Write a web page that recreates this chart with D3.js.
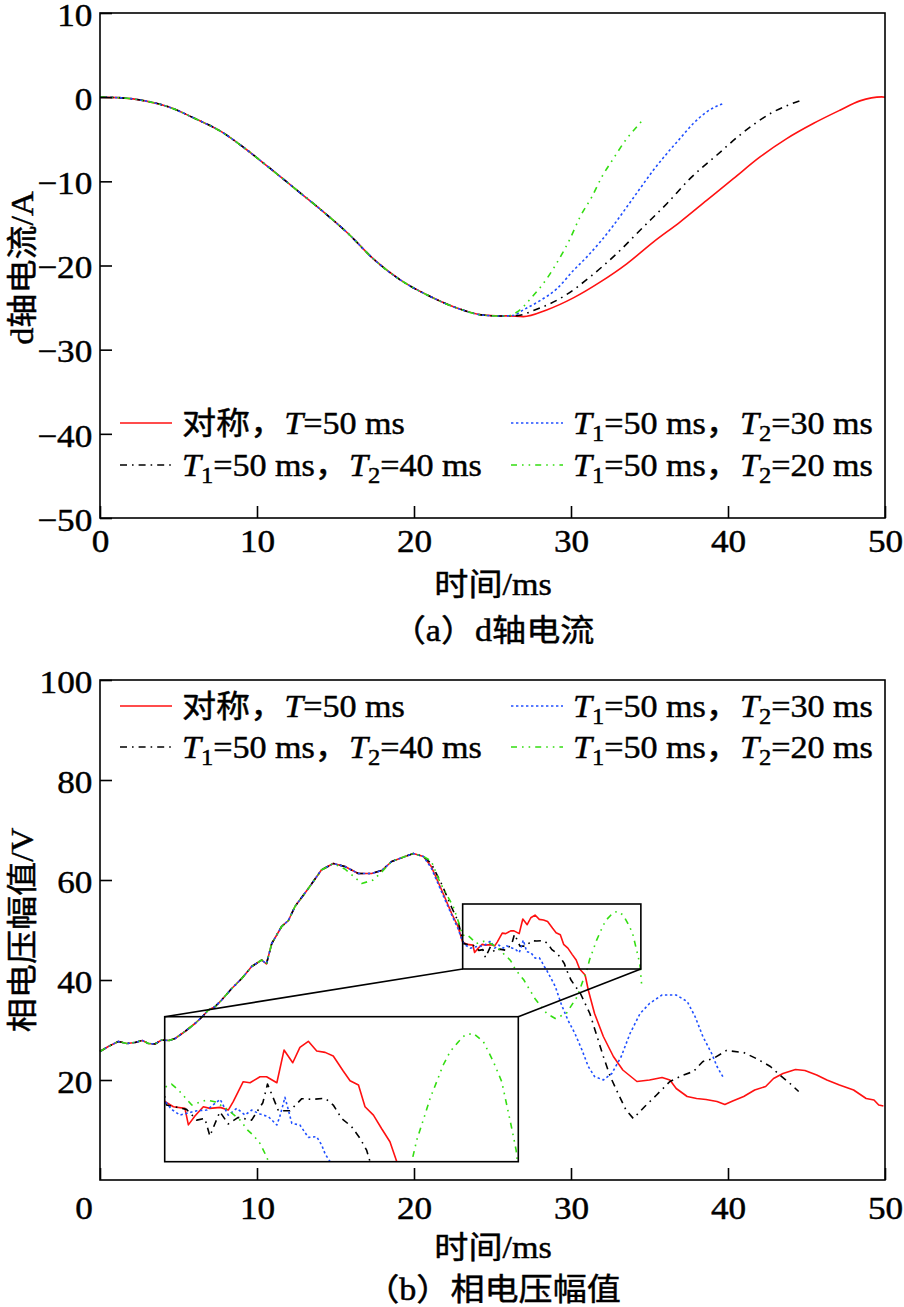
<!DOCTYPE html>
<html><head><meta charset="utf-8">
<script src="https://cdn.jsdelivr.net/npm/d3@7"></script>
<style>body{margin:0;background:#fff}svg{display:block}</style>
</head><body>
<svg id="c" width="904" height="1307"></svg>
<script>
// ================= DATA =================
const xTicks = [0, 10, 20, 30, 40, 50];
const yTicksA = [10, 0, -10, -20, -30, -40, -50];
const yTicksB = [20, 40, 60, 80, 100];

const seriesNames = ["对称，T=50 ms", "T1=50 ms，T2=40 ms", "T1=50 ms，T2=30 ms", "T1=50 ms，T2=20 ms"];

// (a) d-axis current, shared head
const dHeadT = [0, 1.38, 2.87, 4.35, 6.05, 7.75, 9.24, 10.72, 12.42, 14.12, 15.82, 17.52, 19.2, 20.91, 22.6, 24.3, 25.5, 26.0];
const dHeadI = [0, -0.08, -0.44, -1.15, -2.54, -4.13, -6.1, -8.29, -10.87, -13.45, -16.23, -19.4, -21.8, -23.57, -24.96, -25.87, -26.0, -25.98];
const dRedT = [26.96, 28.45, 30.15, 31.85, 33.55, 35.24, 36.94, 38.64, 40.34, 42.04, 43.74, 45.43, 47.13, 48.4, 49.8, 50];
const dRedI = [-26.07, -25.28, -23.85, -21.98, -19.8, -17.22, -14.84, -12.26, -9.68, -7.1, -4.92, -3.13, -1.55, -0.44, 0.04, 0.0];
const dBlackT = [26.6, 27.6, 29.62, 31.32, 33.01, 34.6, 36.1, 37.58, 39.28, 40.87, 42.78, 44.69];
const dBlackI = [-25.95, -25.36, -23.57, -21.19, -18.41, -15.44, -12.66, -9.68, -6.9, -4.33, -1.86, -0.36];
const dBlueT = [26.3, 26.96, 28.03, 29.09, 30.15, 31.0, 31.85, 32.7, 33.55, 34.39, 35.24, 36.1, 36.94, 37.79, 38.64, 39.7];
const dBlueI = [-25.95, -25.28, -24.17, -22.78, -20.6, -19.0, -17.22, -15.24, -13.06, -10.87, -8.69, -6.71, -4.92, -3.13, -1.75, -0.75];
const dGreenT = [26.54, 27.6, 28.45, 29.19, 29.94, 30.57, 31.32, 31.96, 32.7, 33.55, 34.18, 34.6];
const dGreenI = [-25.56, -23.57, -21.59, -19.4, -16.82, -14.25, -11.87, -9.49, -7.3, -4.92, -3.54, -2.65];

// (b) phase voltage amplitude, shared head
const vHeadT = [0, 0.53, 1.17, 1.7, 2.23, 2.7, 3.08, 3.5, 3.93, 4.4, 4.78, 5.41, 6.05, 6.5, 6.9, 7.3, 7.75, 8.39, 9.03, 9.66, 10.3, 10.6, 10.94, 11.57, 12.0, 12.42, 13.27, 14.1, 14.86, 15.6, 16.45, 17.3, 17.94, 18.58, 19.43, 19.96, 20.6];
const vHeadV = [25.7, 26.7, 27.7, 27.3, 27.5, 27.9, 27.3, 27.2, 28.0, 27.9, 28.3, 29.7, 31.3, 32.6, 34.0, 34.6, 36.0, 38.3, 40.3, 42.7, 44.0, 43.2, 47.3, 50.7, 51.9, 54.7, 58.3, 62.0, 63.3, 62.7, 61.3, 61.3, 61.9, 63.7, 64.7, 65.3, 64.7];
const vRedT = [21.1, 21.76, 22.4, 22.8, 23.1, 23.38, 23.75, 23.86, 24.07, 24.34, 24.55, 24.88, 25.14, 25.3, 25.62, 25.84, 26.16, 26.37, 26.7, 26.93, 27.21, 27.44, 27.71, 27.98, 28.25, 28.51, 28.83, 29.05, 29.32, 29.53, 29.8, 30.07, 30.33, 30.55, 30.9, 31.1, 31.5, 32.06, 32.7, 33.3, 34.2, 35.0, 35.8, 36.3, 36.7, 37.4, 38.0, 38.6, 39.3, 39.8, 40.3, 41.0, 41.7, 42.4, 42.9, 43.5, 44.3, 44.9, 45.65, 46.3, 47.1, 48.0, 48.8, 49.3, 49.6, 49.9];
const vRedV = [62.7, 58.0, 53.3, 50.7, 47.6, 47.13, 46.98, 45.5, 46.3, 47.13, 46.98, 47.07, 46.83, 47.58, 49.37, 49.28, 49.82, 49.82, 49.28, 52.21, 51.07, 52.45, 52.99, 52.12, 52.0, 51.68, 50.33, 49.46, 49.07, 47.13, 46.38, 45.13, 43.99, 42.2, 41.0, 38.0, 33.3, 28.7, 24.7, 22.0, 19.7, 20.0, 20.5, 20.0, 18.3, 16.7, 16.3, 16.1, 15.7, 15.1, 15.8, 16.7, 18.0, 18.7, 20.3, 21.3, 22.1, 21.9, 21.0, 20.0, 19.0, 18.0, 16.3, 16.0, 15.0, 14.8];
const vBlackT = [21.1, 21.76, 22.4, 22.8, 23.16, 23.8, 24.13, 24.39, 24.55, 24.87, 25.14, 25.46, 25.89, 26.25, 26.4, 26.59, 26.75, 27.12, 27.5, 27.82, 28.25, 28.51, 28.78, 29.1, 29.37, 29.58, 29.69, 30.0, 30.6, 31.2, 31.6, 32.06, 32.5, 33.0, 33.5, 33.97, 34.7, 35.45, 36.3, 37.15, 37.8, 38.4, 39.06, 39.9, 41.0, 41.8, 42.7, 43.3, 43.95, 44.5];
const vBlackV = [63.3, 59.2, 54.5, 51.8, 47.28, 46.89, 45.93, 46.08, 44.5, 46.68, 45.58, 46.17, 45.93, 47.49, 49.16, 47.88, 46.77, 46.77, 47.85, 47.79, 47.88, 47.28, 46.08, 45.34, 44.29, 43.24, 42.2, 40.0, 37.3, 33.3, 29.3, 24.7, 20.7, 17.3, 14.0, 12.3, 14.7, 17.0, 19.7, 21.0, 21.7, 23.7, 24.3, 25.9, 25.5, 24.3, 22.7, 21.0, 19.3, 17.7];
const vBlueT = [21.1, 21.76, 22.4, 22.8, 23.1, 23.32, 23.59, 24.13, 24.45, 24.88, 25.14, 25.41, 25.68, 25.89, 26.16, 26.43, 26.7, 26.8, 26.96, 27.07, 27.18, 27.44, 27.71, 27.98, 28.14, 28.25, 28.41, 29.0, 29.4, 29.8, 30.25, 30.7, 31.1, 31.5, 32.06, 32.6, 33.2, 33.76, 34.4, 35.0, 35.8, 36.7, 37.4, 37.9, 38.4, 38.96, 39.3, 39.7];
const vBlueV = [62.4, 57.6, 53.0, 50.3, 47.67, 46.89, 46.38, 46.77, 46.83, 47.79, 46.38, 46.98, 46.38, 46.83, 46.47, 46.23, 45.49, 46.29, 47.97, 46.83, 45.64, 45.49, 44.38, 44.44, 43.69, 42.89, 42.2, 38.7, 35.0, 32.0, 29.3, 26.0, 22.7, 20.7, 20.0, 21.3, 24.7, 29.3, 33.3, 35.3, 37.0, 37.0, 35.7, 32.7, 28.7, 25.3, 22.7, 20.5];
const vGreenT = [21.1, 21.66, 22.5, 22.9, 23.1, 23.32, 23.48, 23.64, 23.97, 24.18, 24.45, 24.71, 24.98, 25.14, 25.52, 25.78, 25.94, 26.16, 26.37, 26.43, 27.0, 27.7, 28.45, 29.0, 29.7, 30.4, 31.03, 31.19, 31.4, 31.62, 31.83, 32.04, 32.26, 32.53, 32.74, 33.01, 33.33, 33.65, 33.92, 34.08, 34.24, 34.38, 34.42, 34.5];
const vGreenV = [63.8, 59.5, 54.7, 51.0, 48.86, 49.16, 48.77, 48.33, 47.28, 47.49, 47.73, 47.58, 47.13, 46.83, 45.93, 44.98, 44.59, 43.84, 42.65, 42.2, 40.0, 36.3, 33.3, 32.3, 33.3, 36.7, 42.2, 44.14, 45.93, 47.88, 49.37, 50.87, 52.06, 52.96, 53.56, 53.71, 52.96, 51.17, 49.37, 47.28, 45.19, 43.24, 42.2, 39.0];
// green deviates from the shared head around 15.6-18 ms
const vGreenDipT = [15.6, 16.2, 16.67, 17.4, 17.94];
const vGreenDipV = [62.2, 60.6, 59.3, 60.0, 61.6];

// zoom-in window of the inset (data units)
const insetT = [23.1, 34.45];
const insetV = [42.2, 55.2];

// ================= LAYOUT / STYLE =================
const FONT = "'Liberation Serif','Noto Sans CJK SC',serif";
const SX = 1.1;
const TXT_STROKE = 0.45;
const styles = [
  {color: "#ff1111", dash: null},
  {color: "#000000", dash: "7,5,1.6,5"},
  {color: "#1f4fff", dash: "2.4,2.6"},
  {color: "#33dd11", dash: "6,5,1.6,5,1.6,5"}
];
const LW = 1.6;
const A = {l: 100, r: 885, t: 13, b: 518};
const B = {l: 100, r: 885, t: 680, b: 1180};
const insetBox = {x0: 164.7, x1: 518.3, y0: 1016.7, y1: 1161.7};

const zip = (T, V) => T.map((t, i) => [t, V[i]]);
const dSeries = [
  zip(dHeadT.concat(dRedT), dHeadI.concat(dRedI)),
  zip(dHeadT.concat(dBlackT), dHeadI.concat(dBlackI)),
  zip(dHeadT.concat(dBlueT), dHeadI.concat(dBlueI)),
  zip(dHeadT.concat(dGreenT), dHeadI.concat(dGreenI))
];
const headBeforeDip = zip(vHeadT, vHeadV).filter(p => p[0] < vGreenDipT[0]);
const headAfterDip = zip(vHeadT, vHeadV).filter(p => p[0] > vGreenDipT[vGreenDipT.length - 1]);
const vSeries = [
  zip(vHeadT, vHeadV).concat(zip(vRedT, vRedV)),
  zip(vHeadT, vHeadV).concat(zip(vBlackT, vBlackV)),
  zip(vHeadT, vHeadV).concat(zip(vBlueT, vBlueV)),
  headBeforeDip.concat(zip(vGreenDipT, vGreenDipV), headAfterDip, zip(vGreenT, vGreenV))
];

const svg = d3.select("#c").attr("font-family", FONT);
svg.append("rect").attr("width", 904).attr("height", 1307).attr("fill", "#fff");

function thick(sel) { return sel.attr("stroke", "#000").attr("stroke-width", TXT_STROKE); }

function sText(g, x, y, str, size, anchor) {
  return thick(g.append("text").attr("transform", `translate(${x},${y}) scale(${SX},1)`)
    .attr("font-size", size).attr("text-anchor", anchor || "start").attr("fill", "#000").text(str));
}

function richLabel(g, x, y, label, size) {
  const t = thick(g.append("text").attr("transform", `translate(${x},${y}) scale(${SX},1)`)
    .attr("font-size", size).attr("fill", "#000"));
  const segs = [];
  for (let k = 0; k < label.length; k++) {
    const c = label[k];
    if (c === "T") {
      segs.push({s: "T", it: true});
      if (/[0-9]/.test(label[k + 1] || "") && label[k + 2] === "=") {
        segs.push({s: label[k + 1], sub: true}); k++;
      }
    } else {
      const last = segs[segs.length - 1];
      if (last && !last.it && !last.sub) last.s += c; else segs.push({s: c});
    }
  }
  const sd = Math.round(size * 0.24);
  let prevSub = false;
  segs.forEach(sg => {
    const ts = t.append("tspan").text(sg.s);
    if (sg.it) ts.attr("font-style", "italic");
    if (sg.sub) { ts.attr("font-size", size * 0.72).attr("dy", sd); prevSub = true; }
    else if (prevSub) { ts.attr("dy", -sd); prevSub = false; }
  });
}

function drawPanel(P, yDom, yTickVals, series, opt) {
  const g = svg.append("g");
  const x = d3.scaleLinear().domain([0, 50]).range([P.l, P.r]);
  const y = d3.scaleLinear().domain(yDom).range([P.b, P.t]);
  const fmt = d => d < 0 ? "\u2212" + Math.abs(d) : String(d);

  const line = d3.line().x(d => x(d[0])).y(d => y(d[1])).curve(opt.curve);
  series.forEach((s, i) => {
    g.append("path").attr("d", line(s)).attr("fill", "none")
      .attr("stroke", styles[i].color).attr("stroke-width", LW)
      .attr("stroke-dasharray", styles[i].dash).attr("stroke-linejoin", "round");
  });

  const ax = g.append("g").attr("transform", `translate(0,${P.b})`)
    .call(d3.axisBottom(x).tickValues(xTicks).tickSize(-12).tickPadding(opt.xPad).tickFormat(fmt));
  const ay = g.append("g").attr("transform", `translate(${P.l},0)`)
    .call(d3.axisLeft(y).tickValues(yTickVals).tickSize(-12).tickPadding(7).tickFormat(fmt));
  [ax, ay].forEach(a => {
    a.attr("font-family", FONT);
    a.select(".domain").remove();
    a.selectAll("line").attr("stroke", "#000").attr("stroke-width", LW);
    thick(a.selectAll("text").attr("font-family", FONT).attr("font-size", 32).attr("fill", "#000")
      .attr("transform", `scale(${SX},1)`));
  });
  ay.selectAll("text").attr("dy", "0.38em");
  if (opt.zeroShift) ax.selectAll(".tick").filter(d => d === 0).select("text").attr("x", opt.zeroShift);

  g.append("rect").attr("x", P.l).attr("y", P.t).attr("width", P.r - P.l).attr("height", P.b - P.t)
    .attr("fill", "none").attr("stroke", "#000").attr("stroke-width", LW);

  // legend
  const cols = [[120, 172, 182], [511, 563, 573]];
  const order = [[0, 0, 0], [1, 0, 1], [2, 1, 0], [3, 1, 1]];
  order.forEach(([si, col, row]) => {
    const ly = opt.legY[row];
    const c = cols[col];
    g.append("line").attr("x1", c[0]).attr("x2", c[1]).attr("y1", ly).attr("y2", ly)
      .attr("stroke", styles[si].color).attr("stroke-width", LW).attr("stroke-dasharray", styles[si].dash);
    richLabel(g, c[2], ly + 11, seriesNames[si], 31);
  });

  sText(g, 493, opt.xTitleY, "时间/ms", 31, "middle");
  thick(g.append("text").attr("transform", `translate(33,${opt.yTitleC}) rotate(-90) scale(${SX},1)`)
    .attr("font-size", 31).attr("text-anchor", "middle").attr("fill", "#000").text(opt.yTitle));
  sText(g, 493, opt.capY, opt.caption, 31, "middle");
  return {g, x, y, line};
}

const pa = drawPanel(A, [-50, 10], yTicksA, dSeries, {
  curve: d3.curveMonotoneX, xPad: 11, legY: [423, 465], xTitleY: 595, yTitle: "d轴电流/A", yTitleC: 268, capY: 641, caption: "（a）d轴电流"
});
const pb = drawPanel(B, [0, 100], yTicksB, vSeries, {
  curve: d3.curveLinear, xPad: 16, legY: [706, 747], xTitleY: 1258, yTitle: "相电压幅值/V", yTitleC: 930, capY: 1300, caption: "（b）相电压幅值", zeroShift: -15
});

// inset zoom for panel (b)
const gi = svg.append("g");
const xi = d3.scaleLinear().domain(insetT).range([insetBox.x0, insetBox.x1]);
const yi = d3.scaleLinear().domain(insetV).range([insetBox.y1, insetBox.y0]);
svg.append("defs").append("clipPath").attr("id", "ic").append("rect")
  .attr("x", insetBox.x0).attr("y", insetBox.y0).attr("width", insetBox.x1 - insetBox.x0).attr("height", insetBox.y1 - insetBox.y0);
const li = d3.line().x(d => xi(d[0])).y(d => yi(d[1]));
vSeries.forEach((s, i) => {
  gi.append("path").attr("d", li(s)).attr("clip-path", "url(#ic)").attr("fill", "none")
    .attr("stroke", styles[i].color).attr("stroke-width", LW)
    .attr("stroke-dasharray", styles[i].dash).attr("stroke-linejoin", "round");
});
gi.append("rect").attr("x", insetBox.x0).attr("y", insetBox.y0)
  .attr("width", insetBox.x1 - insetBox.x0).attr("height", insetBox.y1 - insetBox.y0)
  .attr("fill", "none").attr("stroke", "#000").attr("stroke-width", LW);
const sx0 = pb.x(insetT[0]), sx1 = pb.x(insetT[1]), sy0 = pb.y(insetV[1]), sy1 = pb.y(insetV[0]);
gi.append("rect").attr("x", sx0).attr("y", sy0).attr("width", sx1 - sx0).attr("height", sy1 - sy0)
  .attr("fill", "none").attr("stroke", "#000").attr("stroke-width", LW);
gi.append("line").attr("x1", sx0).attr("y1", sy1).attr("x2", insetBox.x0).attr("y2", insetBox.y0)
  .attr("stroke", "#000").attr("stroke-width", LW);
gi.append("line").attr("x1", sx1).attr("y1", sy1).attr("x2", insetBox.x1).attr("y2", insetBox.y0)
  .attr("stroke", "#000").attr("stroke-width", LW);
</script>
</body></html>
